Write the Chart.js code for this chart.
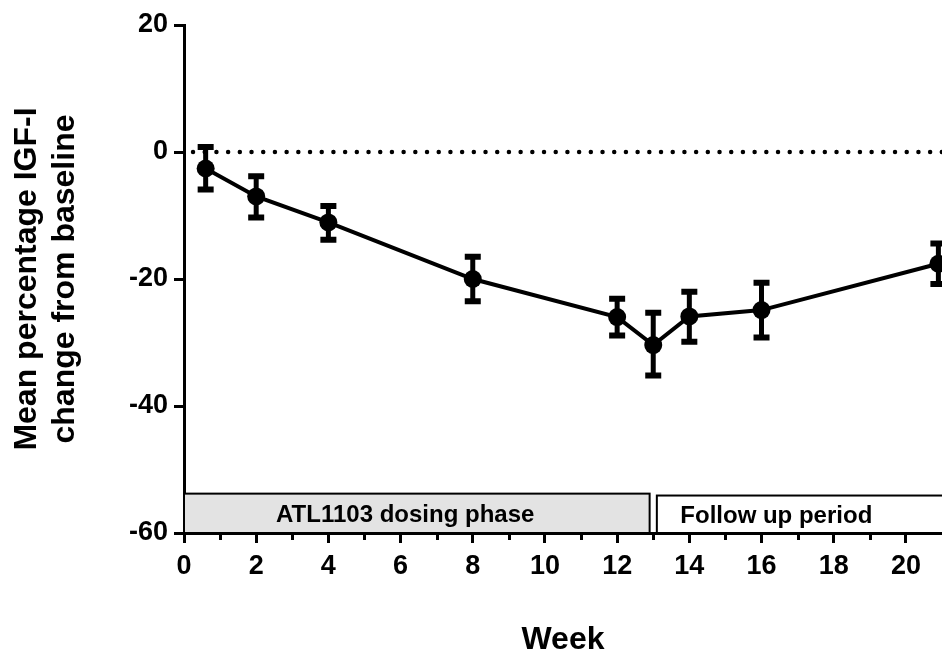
<!DOCTYPE html>
<html>
<head>
<meta charset="utf-8">
<title>IGF-I change from baseline</title>
<script src="https://cdn.jsdelivr.net/npm/chart.js@4.4.1/dist/chart.umd.min.js"></script>
<style>
  html, body { margin: 0; padding: 0; background: #fff; overflow: hidden; }
  #wrap { width: 942px; height: 658px; }
</style>
</head>
<body>
<div id="wrap"><canvas id="igfChart"></canvas></div>
<script>
// values
const weeks = [0.6, 2, 4, 8, 12, 13, 14, 16, 20.9];
const meanChange = [-2.6, -7.0, -11.1, -20.0, -26.0, -30.4, -25.9, -24.9, -17.6];
const errUpper = [0.8, -3.8, -8.5, -16.5, -23.1, -25.3, -22.0, -20.6, -14.4];
const errLower = [-5.9, -10.3, -13.8, -23.5, -28.9, -35.2, -29.9, -29.2, -20.8];

const xMajorTicks = [0, 2, 4, 6, 8, 10, 12, 14, 16, 18, 20];
const xMinorTicks = [1, 3, 5, 7, 9, 11, 13, 15, 17, 19];
const yTicks = [-60, -40, -20, 0, 20];

const phaseLabels = ['ATL1103 dosing phase', 'Follow up period'];
const phaseStart = [0, 13.1];
const phaseEnd = [12.9, 23];
const phaseTop = [-53.8, -54.1];
const phaseLabelStart = [2.55, 13.75];
const baselineValue = 0;

const FONT = '"Liberation Sans", Arial, Helvetica, sans-serif';

const overlays = {
    id: 'overlays',
    beforeDatasetsDraw(chart) {
        const { ctx, chartArea } = chart;
        const x = chart.scales.x;
        const y = chart.scales.y;
        ctx.save();

        // phase boxes along the bottom
        phaseLabels.forEach((label, i) => {
            const left = x.getPixelForValue(phaseStart[i]);
            const right = x.getPixelForValue(phaseEnd[i]);
            const top = y.getPixelForValue(phaseTop[i]);
            const bottom = chartArea.bottom;
            ctx.fillStyle = i === 0 ? '#e3e3e3' : '#ffffff';
            ctx.fillRect(left, top, right - left, bottom - top);
            ctx.strokeStyle = '#000';
            ctx.lineWidth = 2;
            ctx.strokeRect(left, top, right - left, bottom - top);
            ctx.fillStyle = '#000';
            ctx.font = 'bold 24px ' + FONT;
            ctx.textAlign = 'left';
            ctx.textBaseline = 'middle';
            ctx.fillText(label, x.getPixelForValue(phaseLabelStart[i]), (top + bottom) / 2 + 2);
        });

        // dotted baseline
        const y0 = y.getPixelForValue(baselineValue);
        ctx.beginPath();
        ctx.setLineDash([0, 11.7]);
        ctx.lineCap = 'round';
        ctx.lineWidth = 4.5;
        ctx.strokeStyle = '#000';
        ctx.moveTo(x.getPixelForValue(0.25), y0);
        ctx.lineTo(chartArea.right, y0);
        ctx.stroke();
        ctx.restore();
    },
    afterDatasetsDraw(chart) {
        const { ctx } = chart;
        const x = chart.scales.x;
        const y = chart.scales.y;
        ctx.save();
        ctx.strokeStyle = '#000';
        ctx.lineCap = 'butt';
        weeks.forEach((w, i) => {
            const px = x.getPixelForValue(w);
            const top = y.getPixelForValue(errUpper[i]);
            const bottom = y.getPixelForValue(errLower[i]);
            ctx.lineWidth = 5;
            ctx.beginPath();
            ctx.moveTo(px, top);
            ctx.lineTo(px, bottom);
            ctx.stroke();
            ctx.lineWidth = 6;
            ctx.beginPath();
            ctx.moveTo(px - 8, top);
            ctx.lineTo(px + 8, top);
            ctx.moveTo(px - 8, bottom);
            ctx.lineTo(px + 8, bottom);
            ctx.stroke();
        });
        ctx.restore();
    },
    afterDraw(chart) {
        // shorter minor ticks on the week axis
        const { ctx, chartArea } = chart;
        const x = chart.scales.x;
        ctx.save();
        ctx.strokeStyle = '#000';
        ctx.lineWidth = 3;
        xMinorTicks.forEach(v => {
            const px = Math.round(x.getPixelForValue(v)) + 0.5;
            ctx.beginPath();
            ctx.moveTo(px, chartArea.bottom);
            ctx.lineTo(px, chartArea.bottom + 7);
            ctx.stroke();
        });
        ctx.restore();
    }
};

const ctx = document.getElementById('igfChart').getContext('2d');
new Chart(ctx, {
    type: 'line',
    data: {
        datasets: [{
            label: 'Mean percentage IGF-I change',
            data: weeks.map((w, i) => ({ x: w, y: meanChange[i] })),
            borderColor: '#000',
            backgroundColor: '#000',
            borderWidth: 4,
            pointRadius: 9,
            pointHoverRadius: 9,
            pointBackgroundColor: '#000',
            pointBorderWidth: 0,
            tension: 0
        }]
    },
    options: {
        responsive: true,
        maintainAspectRatio: false,
        animation: false,
        events: [],
        layout: {
            autoPadding: false,
            padding: { top: 25, right: 0, bottom: 0, left: 0 }
        },
        plugins: {
            legend: { display: false },
            tooltip: { enabled: false }
        },
        scales: {
            x: {
                type: 'linear',
                min: 0,
                max: 21,
                afterBuildTicks: scale => {
                    scale.ticks = xMajorTicks.map(v => ({ value: v }));
                },
                afterFit: scale => {
                    scale.height = 125;
                    scale.paddingLeft = 0;
                    scale.paddingRight = 0;
                },
                border: { display: true, color: '#000', width: 3 },
                grid: {
                    drawOnChartArea: false,
                    drawTicks: true,
                    tickLength: 10,
                    tickWidth: 3,
                    tickColor: '#000',
                    lineWidth: 3,
                    color: '#000'
                },
                ticks: {
                    color: '#000',
                    padding: 7,
                    maxRotation: 0,
                    autoSkip: false,
                    font: { family: FONT, size: 27, weight: 'bold' }
                },
                title: {
                    display: true,
                    text: 'Week',
                    color: '#000',
                    padding: 0,
                    font: { family: FONT, size: 32, weight: 'bold', lineHeight: 1.1 }
                }
            },
            y: {
                min: -60,
                max: 20,
                afterBuildTicks: scale => {
                    scale.ticks = yTicks.map(v => ({ value: v }));
                },
                afterFit: scale => { scale.width = 184; },
                border: { display: true, color: '#000', width: 3 },
                grid: {
                    drawOnChartArea: false,
                    drawTicks: true,
                    tickLength: 10,
                    tickWidth: 3,
                    tickColor: '#000',
                    lineWidth: 3,
                    color: '#000'
                },
                ticks: {
                    color: '#000',
                    padding: 6,
                    font: { family: FONT, size: 27, weight: 'bold' }
                },
                title: {
                    display: true,
                    text: ['Mean percentage IGF-I', 'change from baseline'],
                    color: '#000',
                    padding: { top: 8, bottom: 0 },
                    font: { family: FONT, size: 32, weight: 'bold', lineHeight: 1.2 }
                }
            }
        }
    },
    plugins: [overlays]
});
</script>
</body>
</html>
